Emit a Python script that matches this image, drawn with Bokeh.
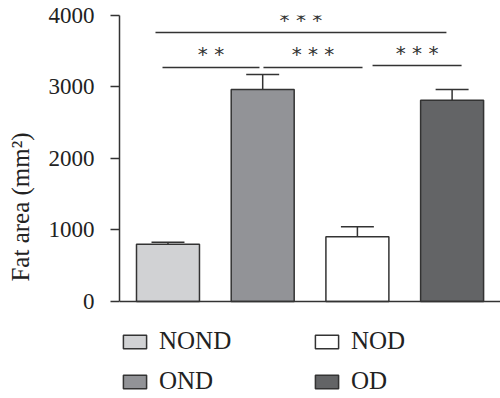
from bokeh.plotting import figure
from bokeh.models import Range1d, Legend, LegendItem, ColumnDataSource, FixedTicker, Span
from bokeh.core.properties import value
from bokeh.embed import file_html
from bokeh.resources import INLINE

# ---- data ----
groups = ["NOND", "OND", "NOD", "OD"]
means = [800, 2965, 905, 2815]
errors = [28, 210, 140, 150]
colors = ["#d1d2d4", "#929397", "#ffffff", "#636466"]
legend_order = ["NOND", "NOD", "OND", "OD"]
y_ticks = [0, 1000, 2000, 3000, 4000]

# significance brackets
sig_x0 = [-0.132, -0.058, 1.008, 2.16]
sig_x1 = [2.94, 0.966, 2.054, 3.10]
sig_y = [3762, 3273, 3273, 3300]
sig_text = ["* * *", "* *", "* * *", "* * *"]

FONT = "Liberation Serif"
INK = "#333333"

xs = list(range(len(groups)))
src = ColumnDataSource(dict(
    x=xs, top=means, color=colors,
    etop=[m + e for m, e in zip(means, errors)],
    cl=[x - 0.174 for x in xs], cr=[x + 0.174 for x in xs],
))

# frame extends below zero to host the legend
p = figure(width=500, height=398, output_backend="svg", toolbar_location=None,
           x_range=Range1d(-0.512, 3.511), y_range=Range1d(-1357, 4000),
           min_border_left=119, min_border_right=0, min_border_top=15,
           min_border_bottom=0)
p.outline_line_color = None
p.grid.visible = False
p.background_fill_color = "white"
p.xaxis.visible = False

# x axis baseline
p.add_layout(Span(location=0, dimension="width", line_color=INK, line_width=1.5))

# error bars
p.segment(x0="x", y0="top", x1="x", y1="etop", source=src, line_color=INK, line_width=1.5)
p.segment(x0="cl", y0="etop", x1="cr", y1="etop", source=src, line_color=INK, line_width=1.5)

bars = p.vbar(x="x", top="top", width=0.665, bottom=0, source=src,
              fill_color="color", line_color=INK, line_width=1.5)

# significance
sig_src = ColumnDataSource(dict(x0=sig_x0, x1=sig_x1, y=sig_y, t=sig_text,
                                xm=[(a + b) / 2 for a, b in zip(sig_x0, sig_x1)]))
p.segment(x0="x0", y0="y", x1="x1", y1="y", source=sig_src, line_color=INK, line_width=1.5)
p.text(x="xm", y="y", text="t", source=sig_src, text_align="center",
       text_baseline="bottom", y_offset=-1, text_font=value("DejaVu Sans"),
       text_font_size="20px", text_color="#333333")

# y axis
p.yaxis.bounds = (0, 4000)
p.yaxis.ticker = FixedTicker(ticks=y_ticks)
p.yaxis.minor_tick_line_color = None
p.yaxis.major_tick_out = 9
p.yaxis.major_tick_in = 0
p.yaxis.major_label_standoff = 16
p.yaxis.major_label_text_font = FONT
p.yaxis.major_label_text_font_size = "23px"
p.yaxis.major_label_text_color = "#222222"
p.yaxis.axis_label = "Fat area (mm²)"
p.yaxis.axis_label_text_font = FONT
p.yaxis.axis_label_text_font_size = "25px"
p.yaxis.axis_label_text_font_style = "normal"
p.yaxis.axis_label_text_color = "#222222"
p.yaxis.axis_label_standoff = 12
p.yaxis.axis_line_color = INK
p.yaxis.axis_line_width = 1.5
p.yaxis.major_tick_line_color = INK
p.yaxis.major_tick_line_width = 1.5

# legend
items = [LegendItem(label=g, renderers=[bars], index=groups.index(g)) for g in legend_order]
legend = Legend(items=items, location=(1, 3), orientation="horizontal", nrows=2,
                glyph_width=29, glyph_height=17, label_standoff=10,
                label_text_font=FONT, label_text_font_size="25px",
                label_text_color="#222222", label_width=141, label_height=17,
                spacing=12, padding=0, margin=0, border_line_color=None,
                background_fill_alpha=0)
p.add_layout(legend, "center")

open("out.html", "w").write(file_html(p, INLINE))
